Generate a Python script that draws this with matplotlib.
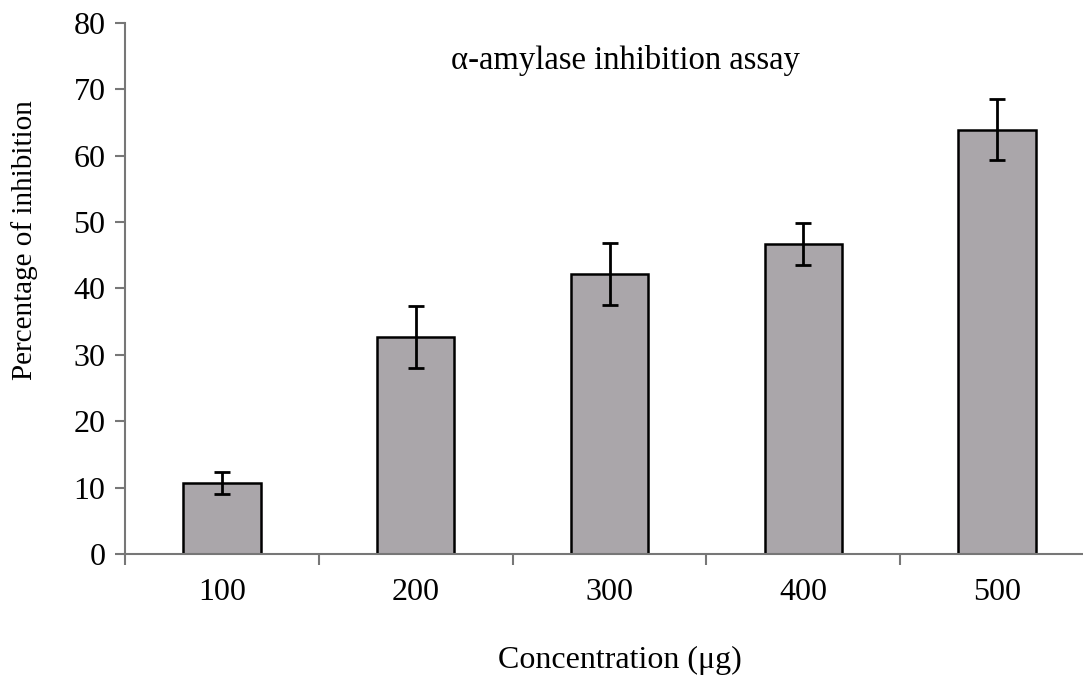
import matplotlib
matplotlib.use('Agg')
import matplotlib.pyplot as plt
import numpy as np

# ================= data =======================
concentrations = ['100', '200', '300', '400', '500']
inhibition = [10.7, 32.7, 42.2, 46.7, 63.9]
errors = [1.6, 4.7, 4.7, 3.2, 4.6]

plt.rcParams['font.family'] = ['Liberation Serif', 'DejaVu Serif']

fig = plt.figure(figsize=(10.83, 6.75), dpi=100)
ax = fig.add_axes([0.1154, 0.1793, 0.8948, 0.7866])

x = np.arange(1, len(concentrations) + 1)
ax.bar(x, inhibition, width=0.4, color='#aaa6aa', edgecolor='black', linewidth=1.8, zorder=2)
ax.errorbar(x, inhibition, yerr=errors, fmt='none', ecolor='black', elinewidth=2,
            capsize=6, capthick=2, zorder=3)

ax.set_xlim(0.5, 5.5)
ax.set_ylim(0, 80)
ax.set_yticks(np.arange(0, 81, 10))
# category labels sit between the tick marks
ax.set_xticks(np.arange(0.5, 5.6, 1.0))
ax.set_xticklabels([])
ax.set_xticks(x, minor=True)
ax.set_xticklabels(concentrations, minor=True)
ax.tick_params(axis='x', which='minor', length=0, pad=17, labelsize=23)
ax.tick_params(axis='x', which='major', length=8, width=1.5, color='#777777', direction='out')
ax.tick_params(axis='y', length=7, width=1.5, color='#777777', labelsize=23, pad=7)

for side in ['top', 'right']:
    ax.spines[side].set_visible(False)
for side in ['left', 'bottom']:
    ax.spines[side].set_color('#777777')
    ax.spines[side].set_linewidth(1.5)

fig.text(625 / 1083, 1 - 60 / 675, '\u03b1-amylase inhibition assay',
         ha='center', va='center', fontsize=23.5)
fig.text(620 / 1083, 1 - 660 / 675, 'Concentration (\u03bcg)', ha='center', va='center', fontsize=23)
fig.text(25 / 1083, 1 - 240 / 675, 'Percentage of inhibition', rotation=90,
         ha='center', va='center', fontsize=21)

fig.savefig('out.png', dpi=100)
